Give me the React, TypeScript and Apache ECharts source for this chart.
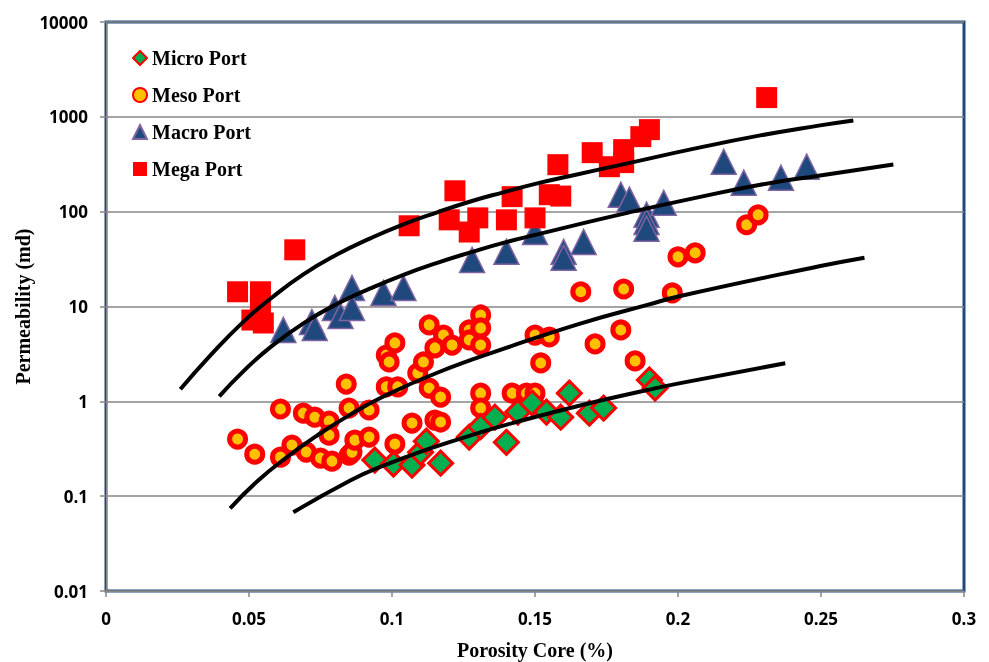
import { useRef, useEffect } from 'react';
import * as echarts from 'echarts';

// [porosity fraction, permeability md]
const microPoints = [
  [0.094, 0.24], [0.1005, 0.218], [0.107, 0.213], [0.11, 0.29], [0.112, 0.38],
  [0.117, 0.223], [0.127, 0.42], [0.131, 0.54], [0.136, 0.68], [0.14, 0.37],
  [0.144, 0.77], [0.149, 0.96], [0.154, 0.77], [0.159, 0.68], [0.162, 1.22],
  [0.169, 0.75], [0.174, 0.85], [0.19, 1.68], [0.192, 1.38],
];

const mesoPoints = [
  [0.046, 0.4], [0.052, 0.277], [0.061, 0.83], [0.061, 0.258], [0.065, 0.346],
  [0.069, 0.75], [0.07, 0.292], [0.073, 0.68], [0.075, 0.252], [0.078, 0.62],
  [0.078, 0.44], [0.079, 0.234], [0.084, 1.52], [0.085, 0.85], [0.085, 0.27],
  [0.086, 0.29], [0.087, 0.39], [0.092, 0.81], [0.092, 0.42], [0.098, 3.08],
  [0.099, 2.6], [0.101, 4.13], [0.098, 1.42], [0.102, 1.42], [0.101, 0.354],
  [0.107, 0.59], [0.109, 1.99], [0.111, 2.6], [0.113, 6.4], [0.113, 1.38],
  [0.115, 0.635], [0.117, 1.11], [0.117, 0.605], [0.118, 5.0], [0.115, 3.66],
  [0.121, 3.92], [0.127, 5.66], [0.127, 4.44], [0.131, 8.14], [0.131, 5.94],
  [0.131, 3.92], [0.131, 1.22], [0.131, 0.85], [0.142, 1.22], [0.147, 1.22],
  [0.15, 1.22], [0.15, 5.0], [0.155, 4.77], [0.152, 2.54], [0.166, 14.3],
  [0.181, 15.3], [0.198, 13.9], [0.171, 4.03], [0.18, 5.66], [0.185, 2.67],
  [0.2, 33.4], [0.206, 36.8], [0.224, 72.8], [0.228, 92.7],
];

const macroPoints = [
  [0.062, 5.66], [0.072, 6.87], [0.073, 5.94], [0.08, 9.66], [0.082, 7.95],
  [0.086, 15.7], [0.086, 9.66], [0.097, 13.9], [0.104, 15.7], [0.128, 31],
  [0.14, 37.7], [0.15, 61], [0.16, 37.7], [0.16, 32.6], [0.167, 48],
  [0.18, 151], [0.183, 134], [0.189, 93], [0.189, 78], [0.189, 66],
  [0.195, 124], [0.216, 336], [0.223, 202], [0.236, 228], [0.245, 298],
];

const megaPoints = [
  [0.046, 14.3], [0.054, 14.3], [0.054, 9.9], [0.051, 7.2], [0.055, 6.7],
  [0.066, 39.6], [0.106, 71], [0.122, 166], [0.12, 82], [0.127, 61],
  [0.13, 86], [0.14, 82], [0.142, 144], [0.15, 86], [0.158, 313],
  [0.155, 151], [0.159, 146], [0.17, 419], [0.176, 298], [0.181, 451],
  [0.181, 329], [0.187, 618], [0.19, 733], [0.231, 1596],
];

// trend lines
const fitMega = [
  [0.026, 1.34], [0.0365, 3.05], [0.048, 6.89], [0.0574, 12.0], [0.069, 21.8],
  [0.0809, 35.5], [0.0924, 52.3], [0.104, 73.5], [0.1158, 98.3], [0.1274, 128],
  [0.1389, 160], [0.1508, 199], [0.1623, 238], [0.1823, 323], [0.2053, 459],
  [0.2288, 637], [0.2497, 813], [0.2613, 917],
];
const fitMacro = [
  [0.0396, 1.13], [0.048, 2.07], [0.0574, 3.71], [0.069, 6.64], [0.0809, 10.7],
  [0.0924, 15.5], [0.104, 21.6], [0.1158, 28.9], [0.1274, 37.2], [0.1389, 46.9],
  [0.1508, 57.6], [0.1623, 70.0], [0.1823, 97.1], [0.2053, 138], [0.2288, 192],
  [0.2497, 241], [0.2753, 315],
];
const fitMeso = [
  [0.0434, 0.0744], [0.0529, 0.1434], [0.0634, 0.26], [0.0739, 0.438],
  [0.0854, 0.7243], [0.097, 1.124], [0.1158, 2.002], [0.1389, 3.568],
  [0.1658, 6.61], [0.1893, 10.4], [0.2008, 12.9], [0.2498, 26.7], [0.2652, 32.7],
];
const fitMicro = [
  [0.0655, 0.0676], [0.0854, 0.1466], [0.0959, 0.2034], [0.1134, 0.3187],
  [0.1309, 0.47], [0.1424, 0.5934], [0.1658, 0.905], [0.1893, 1.315],
  [0.2008, 1.556], [0.2375, 2.522],
];

const legendNames = ['Micro Port', 'Meso Port', 'Macro Port', 'Mega Port'];

const serif = 'Liberation Serif';
const sans = 'Open Sans';

export default function App() {
  const chartRef = useRef<HTMLDivElement>(null);

  useEffect(() => {
    if (!chartRef.current) return;
    const chart = echarts.init(chartRef.current, null, { renderer: 'svg' });

    const fitLine = (name: string, data: number[][]) => ({
      name,
      type: 'line',
      data,
      smooth: true,
      symbol: 'none',
      silent: true,
      lineStyle: { color: '#000', width: 4 },
      z: 5,
    });

    chart.setOption({
      animation: false,
      grid: {
        left: 106,
        right: 25,
        top: 22,
        bottom: 71,
        outerBoundsMode: 'none',
        show: true,
        borderColor: '#1F497D',
        borderWidth: 3,
      },
      legend: {
        orient: 'vertical',
        left: 127,
        top: 43,
        itemWidth: 14,
        itemHeight: 14,
        itemGap: 17,
        data: legendNames,
        textStyle: { fontFamily: serif, fontWeight: 'bold', fontSize: 20, color: '#000' },
      },
      xAxis: {
        type: 'value',
        min: 0,
        max: 0.3,
        interval: 0.05,
        name: 'Porosity Core (%)',
        nameLocation: 'middle',
        nameGap: 49,
        nameMoveOverlap: false,
        nameTextStyle: { fontFamily: serif, fontWeight: 'bold', fontSize: 20, color: '#000' },
        axisLine: { show: true, lineStyle: { color: '#868686' } },
        axisTick: { show: true, length: 6, lineStyle: { color: '#868686', width: 1.5 } },
        axisLabel: { margin: 19, fontFamily: sans, fontWeight: 'bold', fontSize: 17, color: '#000' },
        splitLine: { show: false },
      },
      yAxis: {
        type: 'log',
        logBase: 10,
        min: 0.01,
        max: 10000,
        name: 'Permeability (md)',
        nameLocation: 'middle',
        nameGap: 73,
        nameMoveOverlap: false,
        nameTextStyle: { fontFamily: serif, fontWeight: 'bold', fontSize: 20, color: '#000' },
        axisLine: { show: true, lineStyle: { color: '#868686' } },
        axisTick: { show: true, length: 6, lineStyle: { color: '#868686', width: 1.5 } },
        axisLabel: {
          margin: 18,
          fontFamily: sans,
          fontWeight: 'bold',
          fontSize: 17,
          color: '#000',
          formatter: (v: number) => String(parseFloat(v.toPrecision(4))),
        },
        splitLine: { show: true, lineStyle: { color: '#868686', width: 1.5 } },
      },
      series: [
        {
          name: 'Meso Port',
          type: 'scatter',
          data: mesoPoints,
          symbol: 'circle',
          symbolSize: 16,
          itemStyle: { color: '#FFC000', borderColor: '#FF0000', borderWidth: 5, opacity: 1 },
          z: 2,
        },
        {
          name: 'Micro Port',
          type: 'scatter',
          data: microPoints,
          symbol: 'diamond',
          symbolSize: 24,
          itemStyle: { color: '#00B050', borderColor: '#FF0000', borderWidth: 3, opacity: 1 },
          z: 3,
        },
        {
          name: 'Macro Port',
          type: 'scatter',
          data: macroPoints,
          symbol: 'triangle',
          symbolSize: 25,
          itemStyle: { color: '#1F497D', borderColor: '#8064A2', borderWidth: 1.5, opacity: 1 },
          z: 3,
        },
        {
          name: 'Mega Port',
          type: 'scatter',
          data: megaPoints,
          symbol: 'rect',
          symbolSize: 21,
          itemStyle: { color: '#FF0000', opacity: 1 },
          z: 4,
        },
        fitLine('fit mega', fitMega),
        fitLine('fit macro', fitMacro),
        fitLine('fit meso', fitMeso),
        fitLine('fit micro', fitMicro),
      ],
    });

    return () => chart.dispose();
  }, []);

  return (
    <div
      ref={chartRef}
      style={{ position: 'fixed', left: 0, top: 0, width: 989, height: 662 }}
    />
  );
}
